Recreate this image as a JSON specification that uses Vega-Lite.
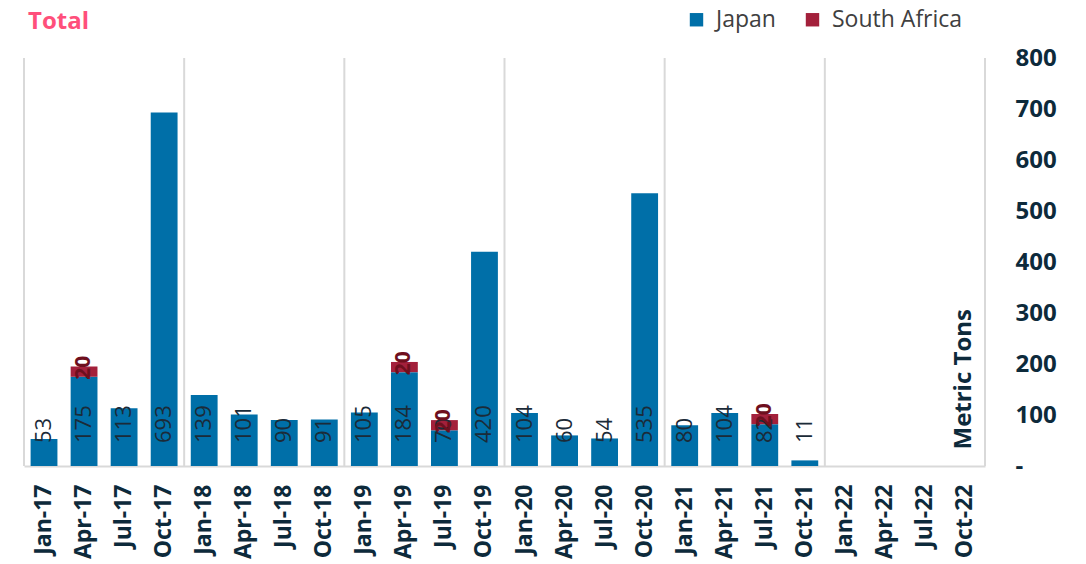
{
  "$schema": "https://vega.github.io/schema/vega-lite/v6.json",
  "width": 961,
  "height": 408,
  "autosize": {"type": "none"},
  "padding": {"left": 24, "top": 58, "right": 101, "bottom": 98},
  "background": "white",
  "config": {"view": {"stroke": null}, "font": "Open Sans"},
  "title": {"text": "Total", "anchor": "start", "frame": "group", "fontSize": 24, "fontWeight": "bold", "color": "#FF4F7B", "font": "Open Sans", "offset": -26, "dx": 4},
  "datasets": {
    "main": [
      {"q": "Jan-17", "country": "Japan", "value": 53},
      {"q": "Apr-17", "country": "Japan", "value": 175},
      {"q": "Apr-17", "country": "South Africa", "value": 20},
      {"q": "Jul-17", "country": "Japan", "value": 113},
      {"q": "Oct-17", "country": "Japan", "value": 693},
      {"q": "Jan-18", "country": "Japan", "value": 139},
      {"q": "Apr-18", "country": "Japan", "value": 101},
      {"q": "Jul-18", "country": "Japan", "value": 90},
      {"q": "Oct-18", "country": "Japan", "value": 91},
      {"q": "Jan-19", "country": "Japan", "value": 105},
      {"q": "Apr-19", "country": "Japan", "value": 184},
      {"q": "Apr-19", "country": "South Africa", "value": 20},
      {"q": "Jul-19", "country": "Japan", "value": 70},
      {"q": "Jul-19", "country": "South Africa", "value": 20},
      {"q": "Oct-19", "country": "Japan", "value": 420},
      {"q": "Jan-20", "country": "Japan", "value": 104},
      {"q": "Apr-20", "country": "Japan", "value": 60},
      {"q": "Jul-20", "country": "Japan", "value": 54},
      {"q": "Oct-20", "country": "Japan", "value": 535},
      {"q": "Jan-21", "country": "Japan", "value": 80},
      {"q": "Apr-21", "country": "Japan", "value": 104},
      {"q": "Jul-21", "country": "Japan", "value": 82},
      {"q": "Jul-21", "country": "South Africa", "value": 20},
      {"q": "Oct-21", "country": "Japan", "value": 11}
    ],
    "seps": [
      {"q": "Jan-17"}, {"q": "Jan-18"}, {"q": "Jan-19"}, {"q": "Jan-20"}, {"q": "Jan-21"}, {"q": "Jan-22"}
    ],
    "right": [{"q": "Oct-22"}]
  },
  "data": {"name": "main"},
  "encoding": {
    "x": {
      "field": "q", "type": "nominal",
      "scale": {"domain": ["Jan-17","Apr-17","Jul-17","Oct-17","Jan-18","Apr-18","Jul-18","Oct-18","Jan-19","Apr-19","Jul-19","Oct-19","Jan-20","Apr-20","Jul-20","Oct-20","Jan-21","Apr-21","Jul-21","Oct-21","Jan-22","Apr-22","Jul-22","Oct-22"], "paddingInner": 0, "paddingOuter": 0},
      "axis": {"title": null, "labelAngle": -90, "labelFontSize": 23, "labelFontWeight": "bold", "labelColor": "#0D2A3B", "labelFont": "Open Sans", "labelPadding": 18, "ticks": false, "domainColor": "#D9D9D9", "domainWidth": 2, "grid": false}
    }
  },
  "layer": [
    {
      "data": {"name": "seps"},
      "mark": {"type": "rule", "color": "#D9D9D9", "strokeWidth": 2},
      "encoding": {"x": {"field": "q", "type": "nominal", "bandPosition": 0}}
    },
    {
      "data": {"name": "right"},
      "mark": {"type": "rule", "color": "#D9D9D9", "strokeWidth": 2},
      "encoding": {"x": {"field": "q", "type": "nominal", "bandPosition": 1}}
    },
    {
      "mark": {"type": "bar", "width": {"band": 0.67}},
      "encoding": {
        "y": {
          "field": "value", "type": "quantitative", "stack": "zero",
          "scale": {"domain": [0, 800], "nice": false},
          "axis": {"orient": "right", "values": [0,100,200,300,400,500,600,700,800], "labelExpr": "datum.value == 0 ? '-' : datum.label", "labelFontSize": 24, "labelFontWeight": "bold", "labelColor": "#0D2A3B", "labelFont": "Open Sans", "labelPadding": 30, "ticks": false, "domain": false, "grid": false,
            "title": "Metric Tons", "titleAngle": -90, "titleX": -22, "titleY": 391, "titleAlign": "left", "titleBaseline": "middle", "titleFontSize": 24, "titleFontWeight": "bold", "titleColor": "#0D2A3B", "titleFont": "Open Sans"}
        },
        "color": {
          "field": "country", "type": "nominal",
          "scale": {"domain": ["Japan", "South Africa"], "range": ["#006FA8", "#A3203B"]},
          "legend": {"title": null, "orient": "none", "legendX": 661, "legendY": -50, "direction": "horizontal", "symbolType": "square", "symbolSize": 180, "labelFontSize": 23, "labelColor": "#404040", "labelFont": "Open Sans", "columnPadding": 25, "symbolOffset": 0, "labelOffset": 8}
        },
        "order": {"field": "country", "sort": "ascending"}
      }
    },
    {
      "transform": [{"filter": "datum.country == 'Japan'"}],
      "mark": {"type": "text", "angle": -90, "align": "left", "baseline": "middle", "dx": 23, "fontSize": 22, "color": "#1B2B38", "font": "Open Sans"},
      "encoding": {
        "y": {"datum": 0, "type": "quantitative"},
        "text": {"field": "value", "type": "quantitative"}
      }
    },
    {
      "transform": [
        {"stack": "value", "groupby": ["q"], "sort": [{"field": "country", "order": "ascending"}], "as": ["v0", "v1"]},
        {"filter": "datum.country == 'South Africa'"}
      ],
      "mark": {"type": "text", "angle": -90, "align": "left", "baseline": "middle", "dx": -3, "fontSize": 21, "fontWeight": "bold", "color": "#6E0F1E", "font": "Open Sans"},
      "encoding": {
        "y": {"field": "v0", "type": "quantitative"},
        "text": {"field": "value", "type": "quantitative"}
      }
    }
  ]
}
